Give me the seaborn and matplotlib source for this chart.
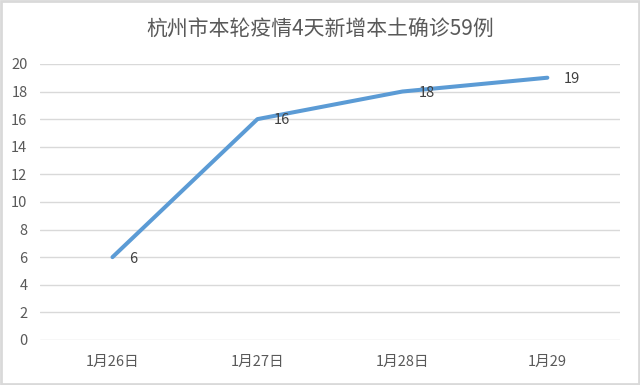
import matplotlib
matplotlib.use("Agg")
import matplotlib.pyplot as plt
import seaborn as sns
import pandas as pd
from matplotlib.patches import Rectangle

title = "杭州市本轮疫情4天新增本土确诊59例"
categories = ["1月26日", "1月27日", "1月28日", "1月29"]
values = [6, 16, 18, 19]
yticks = [0, 2, 4, 6, 8, 10, 12, 14, 16, 18, 20]

sns.set_theme(style="white")
plt.rcParams['font.family'] = ['Noto Sans CJK SC', 'DejaVu Sans']

fig = plt.figure(figsize=(6.4, 3.85), dpi=100)
ax = fig.add_axes([0.0625, 0.117, 0.906, 0.717])

df = pd.DataFrame({"pos": list(range(len(categories))), "value": values})
sns.lineplot(data=df, x="pos", y="value", ax=ax, color="#5B9BD5", linewidth=2.9)

for i, v in enumerate(values):
    ax.text(i + 0.115, v - 0.1, str(v), ha="left", va="center", fontsize=10.5, color="#404040")

ax.set_xlim(-0.5, len(categories) - 0.5)
ax.set_ylim(0, 20)
ax.set_yticks(yticks)
ax.set_xticks(range(len(categories)))
ax.set_xticklabels(categories)
ax.set_xlabel("")
ax.set_ylabel("")
ax.tick_params(axis="both", length=0, labelsize=10.5, colors="#595959")
ax.tick_params(axis="x", pad=11)
ax.tick_params(axis="y", pad=9)
ax.yaxis.grid(True, color="#D9D9D9", linewidth=1)
ax.xaxis.grid(False)
for s in ax.spines.values():
    s.set_visible(False)
ax.set_axisbelow(True)

fig.text(0.5, 0.922, title, ha="center", va="center", fontsize=15, color="#595959")
fig.patches.append(Rectangle((0.002, 0.003), 0.996, 0.994, transform=fig.transFigure,
                             fill=False, edgecolor="#D9D9D9", linewidth=2))

fig.savefig("out.png", dpi=100)
